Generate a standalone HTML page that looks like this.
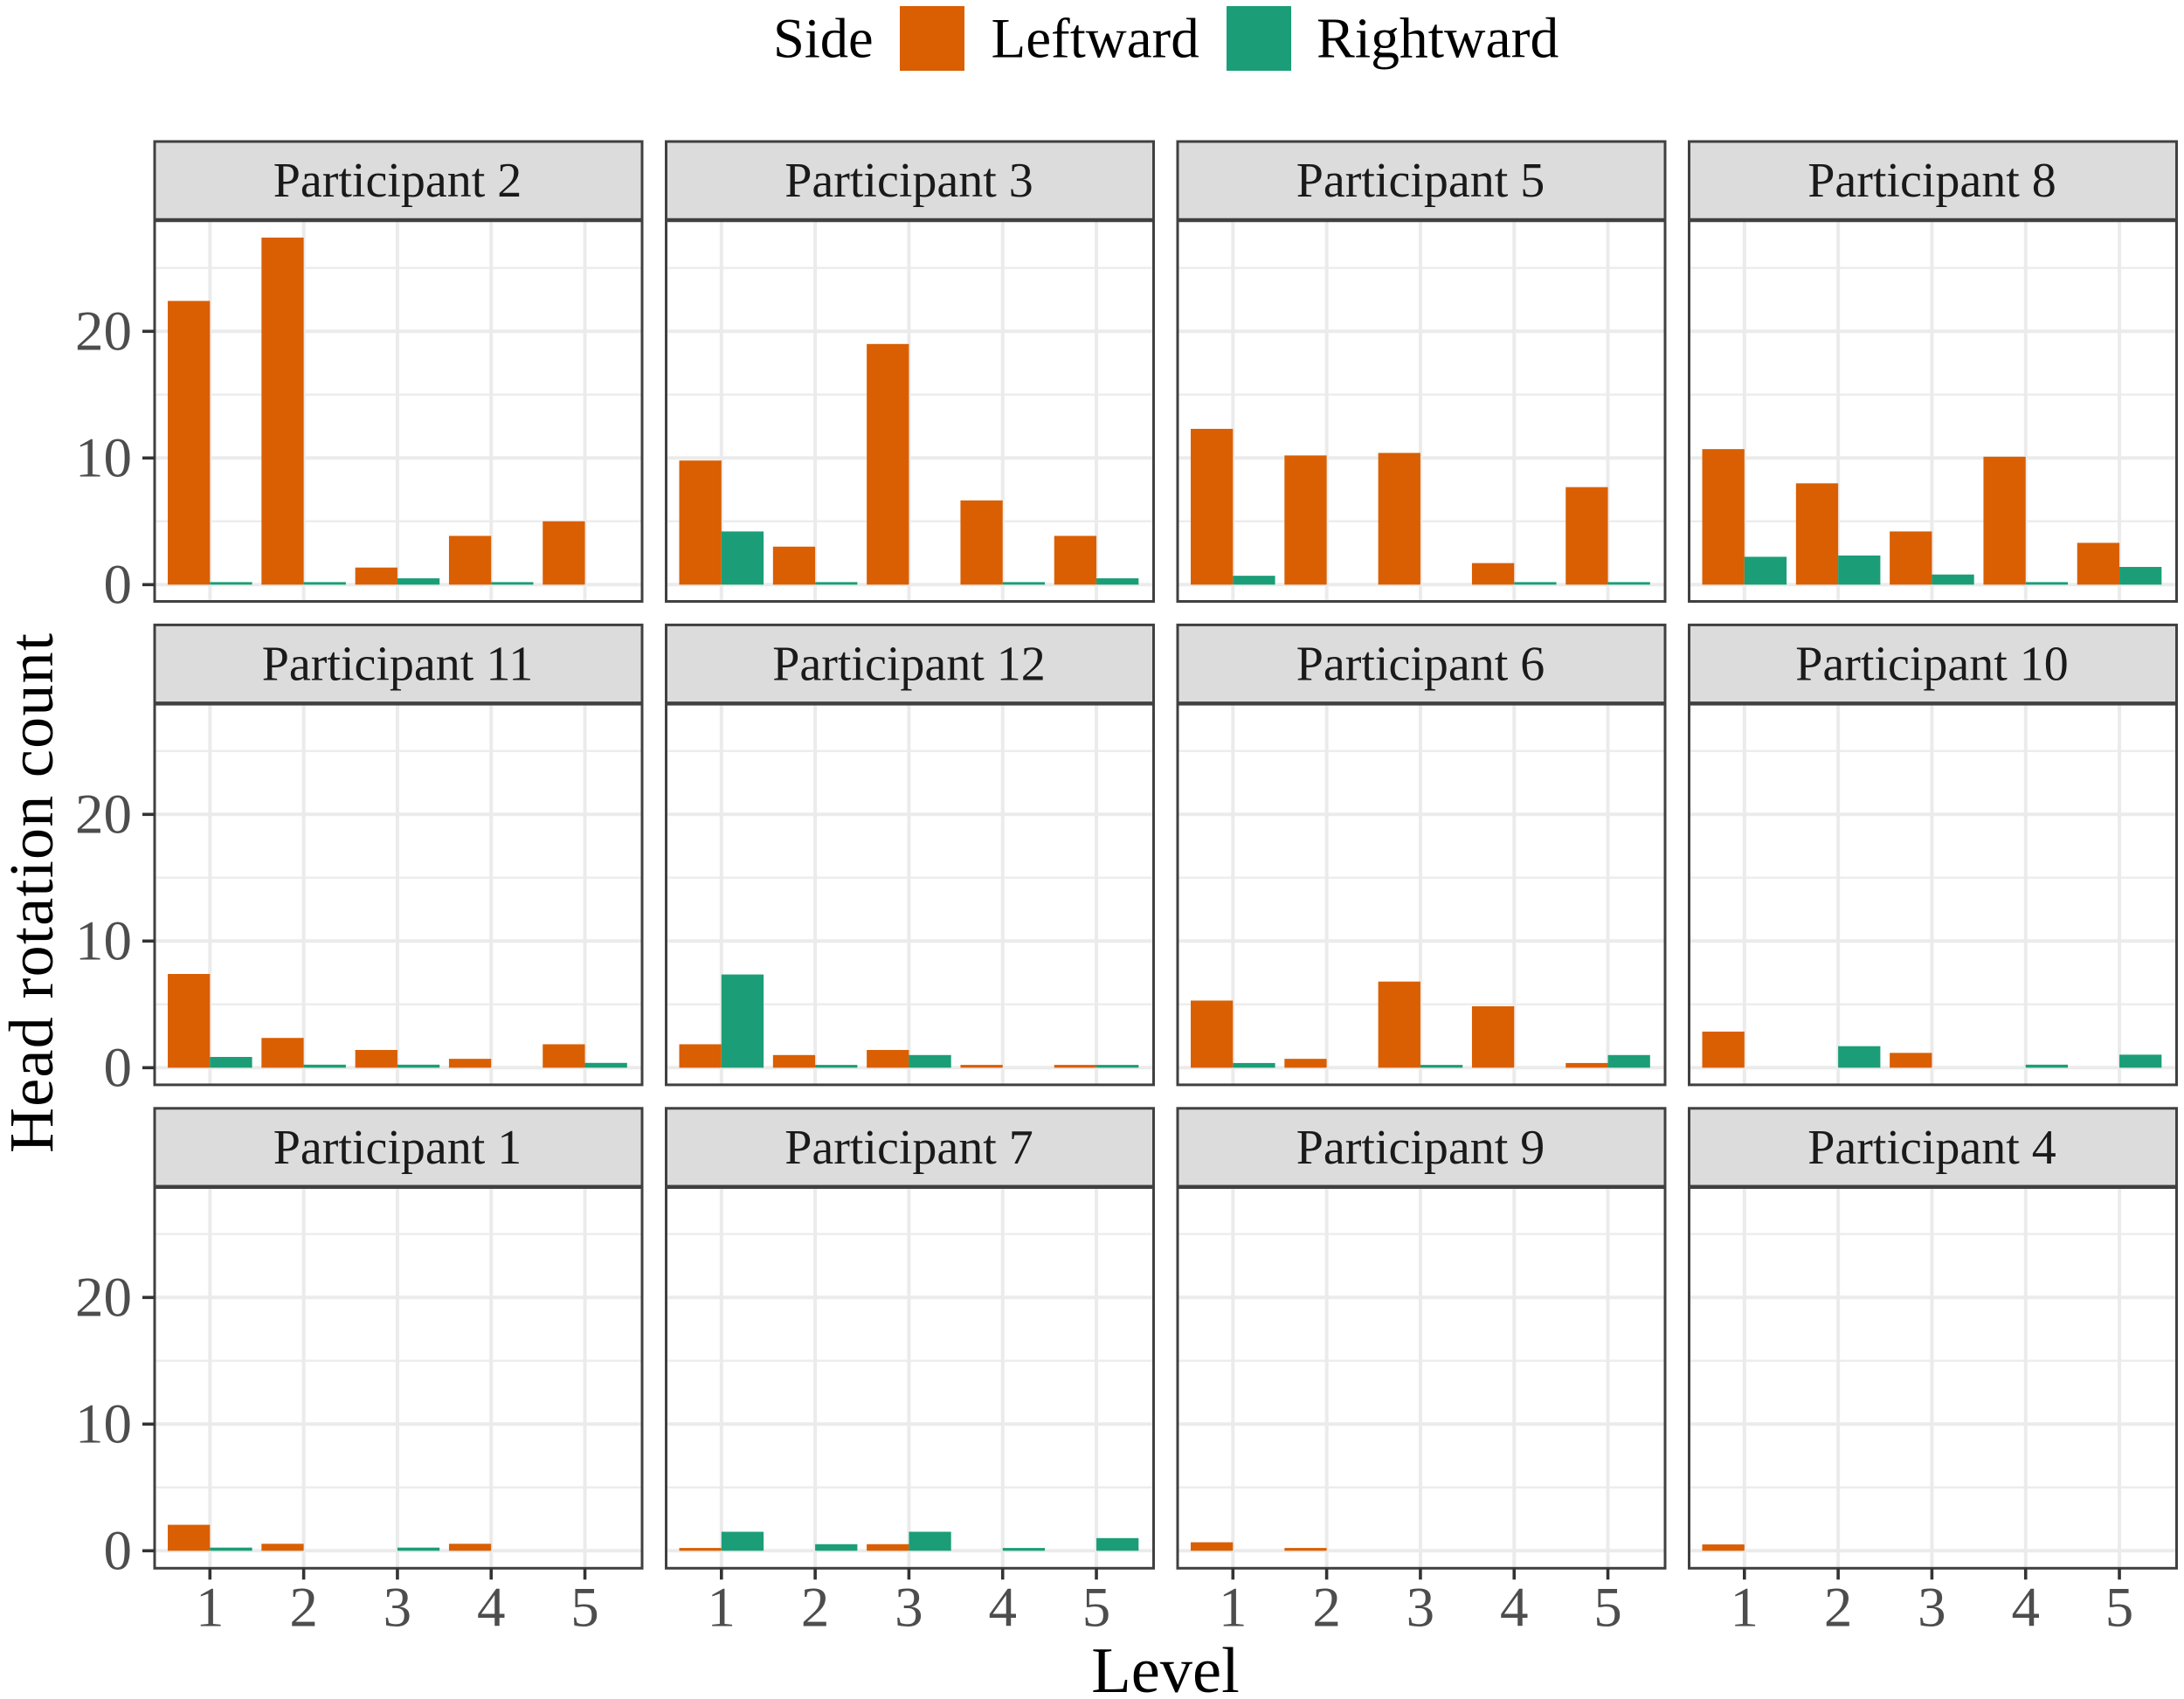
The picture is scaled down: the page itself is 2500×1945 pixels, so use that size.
<!DOCTYPE html>
<html lang="en">
<head>
<meta charset="utf-8">
<title>Head rotation count by level and participant</title>
<style>
  html, body { margin: 0; padding: 0; background: #ffffff; }
  svg { display: block; }
  text { font-family: "Liberation Serif", "Times New Roman", serif; }
</style>
</head>
<body>
<svg id="chart" xmlns="http://www.w3.org/2000/svg" width="2500" height="1945" viewBox="0 0 2500 1945">
  <rect x="0" y="0" width="2500" height="1945" fill="#ffffff"/>
  <g>
    <text x="885" y="65.5" font-size="64.5" fill="#000000">Side</text>
    <rect x="1030" y="7" width="74" height="74" fill="#D95F02"/>
    <text x="1134.5" y="65.5" font-size="65" fill="#000000">Leftward</text>
    <rect x="1404" y="7" width="74" height="74" fill="#1B9E77"/>
    <text x="1507" y="65.5" font-size="65.7" fill="#000000">Rightward</text>
  </g>
  <text transform="translate(60 1022.5) rotate(-90)" text-anchor="middle" font-size="72" textLength="595" lengthAdjust="spacing" fill="#000000">Head rotation count</text>
  <text x="1334" y="1937" text-anchor="middle" font-size="74.5" fill="#000000">Level</text>
  <g id="panels"></g>
</svg>
<script>
const participants = [
  "Participant 2", "Participant 3", "Participant 5", "Participant 8",
  "Participant 11", "Participant 12", "Participant 6", "Participant 10",
  "Participant 1", "Participant 7", "Participant 9", "Participant 4"
];
const levels = [1, 2, 3, 4, 5];
const yTicks = [0, 10, 20];
const yMinorTicks = [5, 15, 25];
const leftward = [
  [22.4, 27.4, 1.35, 3.85, 5.0],
  [9.8, 3.0, 19.0, 6.65, 3.85],
  [12.3, 10.2, 10.4, 1.7, 7.7],
  [10.7, 8.0, 4.2, 10.1, 3.3],
  [7.4, 2.35, 1.4, 0.7, 1.85],
  [1.85, 1.0, 1.4, 0.22, 0.22],
  [5.3, 0.7, 6.8, 4.85, 0.37],
  [2.85, 0, 1.17, 0, 0],
  [2.05, 0.55, 0, 0.55, 0],
  [0.22, 0, 0.52, 0, 0],
  [0.67, 0.22, 0, 0, 0],
  [0.5, 0, 0, 0, 0]
];
const rightward = [
  [0.2, 0.2, 0.5, 0.2, 0],
  [4.2, 0.2, 0, 0.2, 0.5],
  [0.7, 0, 0, 0.2, 0.2],
  [2.2, 2.3, 0.8, 0.2, 1.4],
  [0.85, 0.24, 0.24, 0, 0.38],
  [7.36, 0.22, 1.0, 0, 0.22],
  [0.37, 0, 0.22, 0, 1.0],
  [0, 1.7, 0, 0.24, 1.03],
  [0.25, 0, 0.25, 0, 0],
  [1.5, 0.52, 1.5, 0.22, 1.0],
  [0, 0, 0, 0, 0],
  [0, 0, 0, 0, 0]
];

const SVG_NS = "http://www.w3.org/2000/svg";
const COLS = 4;
const ROWS = 3;
const PANEL_W = 558;
const PANEL_H = 436.5;
const STRIP_H = 90;
const UNIT_Y = 14.5;
const UNIT_X = PANEL_W / 5.2;
const BAR_W = UNIT_X * 0.45;
const BORDER = "#404040";

function panelLeft(col) { return 177 + col * 585.5; }
function panelTop(row) { return 252 + row * 553.4; }
function xScale(col, level) { return panelLeft(col) + (level - 0.41) * UNIT_X; }
function yScale(row, value) { return 669.3 + row * 553 - value * UNIT_Y; }

function shape(tag, attrs, parent) {
  const el = document.createElementNS(SVG_NS, tag);
  for (const key of Object.keys(attrs)) el.setAttribute(key, attrs[key]);
  parent.appendChild(el);
  return el;
}

const root = document.getElementById("panels");

participants.forEach(function (name, i) {
  const col = i % COLS;
  const row = Math.floor(i / COLS);
  const left = panelLeft(col);
  const top = panelTop(row);
  const slug = name.toLowerCase().replace(" ", "-");

  const g = shape("g", {}, root);
  
  

  yMinorTicks.forEach(function (t) {
    const y = yScale(row, t);
    const line = shape("line", { x1: left, x2: left + PANEL_W, y1: y, y2: y, stroke: "#ededed", "stroke-width": 2.5 }, g);
    
    
  });
  yTicks.forEach(function (t) {
    const y = yScale(row, t);
    const line = shape("line", { x1: left, x2: left + PANEL_W, y1: y, y2: y, stroke: "#ebebeb", "stroke-width": 4 }, g);
    
    
  });
  levels.forEach(function (lv) {
    const x = xScale(col, lv);
    const line = shape("line", { x1: x, x2: x, y1: top, y2: top + PANEL_H, stroke: "#ebebeb", "stroke-width": 4 }, g);
    
    
  });

  levels.forEach(function (lv, j) {
    const x = xScale(col, lv);
    const base = yScale(row, 0);
    const lVal = leftward[i][j];
    const rVal = rightward[i][j];
    if (lVal > 0) {
      const bar = shape("rect", { x: x - BAR_W, y: yScale(row, lVal), width: BAR_W, height: base - yScale(row, lVal), fill: "#D95F02" }, g);
      
      
    }
    if (rVal > 0) {
      const bar = shape("rect", { x: x, y: yScale(row, rVal), width: BAR_W, height: base - yScale(row, rVal), fill: "#1B9E77" }, g);
      
      
    }
  });

  const border = shape("rect", { x: left, y: top, width: PANEL_W, height: PANEL_H, fill: "none", stroke: BORDER, "stroke-width": 3 }, g);
  
  

  const strip = shape("rect", { x: left, y: top - STRIP_H, width: PANEL_W, height: STRIP_H, fill: "#dcdcdc", stroke: BORDER, "stroke-width": 3 }, g);
  
  

  const stripLine = shape("line", { x1: left, x2: left + PANEL_W, y1: top, y2: top, stroke: BORDER, "stroke-width": 4.5 }, g);
  
  

  const label = shape("text", { x: left + PANEL_W / 2 - 1, y: top - 27, "text-anchor": "middle", "font-size": 56, fill: "#1a1a1a" }, g);
  label.textContent = name;
  
  

  if (col === 0) {
    yTicks.forEach(function (t) {
      const y = yScale(row, t);
      const tick = shape("line", { x1: left - 14, x2: left, y1: y, y2: y, stroke: "#333333", "stroke-width": 3.6 }, g);
      
      
      const tl = shape("text", { x: left - 26, y: y + 21, "text-anchor": "end", "font-size": 65, fill: "#4d4d4d" }, g);
      tl.textContent = String(t);
      
      
    });
  }

  if (row === ROWS - 1) {
    levels.forEach(function (lv) {
      const x = xScale(col, lv);
      const tick = shape("line", { x1: x, x2: x, y1: top + PANEL_H, y2: top + PANEL_H + 13, stroke: "#333333", "stroke-width": 3.6 }, g);
      
      
      const tl = shape("text", { x: x, y: 1861.5, "text-anchor": "middle", "font-size": 65, fill: "#4d4d4d" }, g);
      tl.textContent = String(lv);
      
      
    });
  }
});
</script>
</body>
</html>
